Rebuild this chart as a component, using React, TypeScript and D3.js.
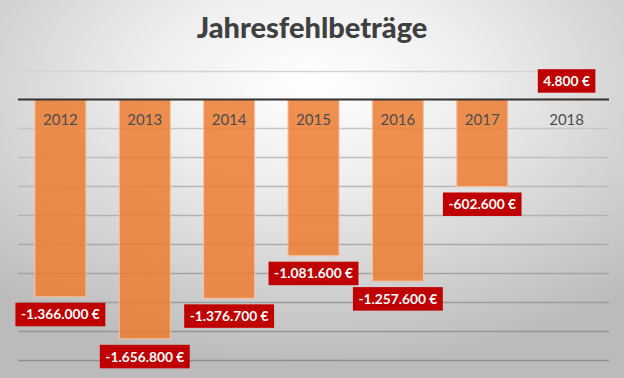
import React, { useEffect, useRef } from "react";
import * as d3 from "d3";

const years: string[] = ["2012", "2013", "2014", "2015", "2016", "2017", "2018"];
const values: number[] = [-1366000, -1656800, -1376700, -1081600, -1257600, -602600, 4800];
const yTicks: number[] = [-1800000, -1600000, -1400000, -1200000, -1000000, -800000, -600000, -400000, -200000, 0, 200000];
const title = "Jahresfehlbeträge";

const W = 624;
const H = 378;

export default function App() {
  const ref = useRef<SVGSVGElement | null>(null);

  useEffect(() => {
    document.body.style.margin = "0";
    const svg = d3.select(ref.current!);
    svg.selectAll("*").remove();

    const defs = svg.append("defs");
    const rg = defs
      .append("radialGradient")
      .attr("id", "bg")
      .attr("cx", "50%")
      .attr("cy", "22%")
      .attr("r", "75%")
      .attr("fx", "50%")
      .attr("fy", "22%");
    rg.append("stop").attr("offset", "0%").attr("stop-color", "#ffffff");
    rg.append("stop").attr("offset", "35%").attr("stop-color", "#eeeeee");
    rg.append("stop").attr("offset", "100%").attr("stop-color", "#bbbbbb");

    svg.append("rect").attr("width", W).attr("height", H).attr("fill", "url(#bg)");

    const x = d3.scaleBand<string>().domain(years).range([18, 609]).paddingInner(0.395).paddingOuter(0.2);
    const y = d3.scaleLinear().domain([-1800000, 200000]).range([359.5, 70.5]);

    const locale = d3.formatLocale({
      decimal: ",",
      thousands: ".",
      grouping: [3],
      currency: ["", " €"],
      minus: "-",
    } as any);
    const fmt = (v: number) => locale.format(",.0f")(v) + " €";

    const gridColor = d3.scaleLinear<string>().domain([200000, -1800000]).range(["#d4d4d4", "#8f8f8f"]);
    const FONT = "Lato, 'Open Sans', sans-serif";

    const measure = (txt: string, size: number, weight: string) => {
      const t = svg
        .append("text")
        .attr("font-family", FONT)
        .attr("font-weight", weight)
        .attr("font-size", size)
        .text(txt);
      const w = (t.node() as SVGTextElement).getComputedTextLength();
      t.remove();
      return w;
    };
    const labelSize = (14 * 79) / measure("-1.366.000 €", 14, "bold");
    const titleSize = (28 * 229) / measure(title, 28, "bold");

    // gridlines
    svg
      .append("g")
      .selectAll("line")
      .data(yTicks.filter((t) => t !== 0))
      .join("line")
      .attr("x1", 18)
      .attr("x2", 609)
      .attr("y1", (d) => Math.round(y(d)) + 0.5)
      .attr("y2", (d) => Math.round(y(d)) + 0.5)
      .attr("stroke", (d) => gridColor(d))
      .attr("stroke-width", 1.3);

    // bars
    svg
      .append("g")
      .selectAll("rect")
      .data(values)
      .join("rect")
      .attr("x", (_d, i) => x(years[i])!)
      .attr("width", x.bandwidth())
      .attr("y", (d) => y(Math.max(0, d)))
      .attr("height", (d) => Math.abs(y(d) - y(0)))
      .attr("fill", "#ED7D31")
      .attr("fill-opacity", 0.85)
      .attr("stroke", "#f6c3a0")
      .attr("stroke-width", 1);

    // zero line
    svg
      .append("line")
      .attr("x1", 18)
      .attr("x2", 609)
      .attr("y1", y(0))
      .attr("y2", y(0))
      .attr("stroke", "#333333")
      .attr("stroke-width", 2);

    // year labels
    svg
      .append("g")
      .selectAll("text")
      .data(years)
      .join("text")
      .attr("x", (d) => x(d)! + x.bandwidth() / 2)
      .attr("y", 125)
      .attr("text-anchor", "middle")
      .attr("font-family", FONT)
      .attr("font-size", 15)
      .attr("fill", "#4d4d4d")
      .text((d) => d);

    // data labels
    const lg = svg.append("g");
    values.forEach((v, i) => {
      const cx = x(years[i])! + x.bandwidth() / 2;
      const g = lg.append("g");
      const t = g
        .append("text")
        .attr("x", cx)
        .attr("text-anchor", "middle")
        .attr("font-family", FONT)
        .attr("font-weight", "bold")
        .attr("font-size", labelSize)
        .attr("fill", "#ffffff")
        .text(fmt(v));
      const tw = (t.node() as SVGTextElement).getComputedTextLength();
      const bh = 23.5;
      const bw = tw + 11;
      const top = v < 0 ? y(v) + 6 : y(v) - 6 - bh;
      t.attr("y", top + bh / 2 + labelSize * 0.36);
      g.insert("rect", "text")
        .attr("x", cx - bw / 2)
        .attr("y", top)
        .attr("width", bw)
        .attr("height", bh)
        .attr("fill", "#C00000");
    });

    // title
    svg
      .append("text")
      .attr("x", W / 2)
      .attr("y", 38)
      .attr("text-anchor", "middle")
      .attr("font-family", FONT)
      .attr("font-weight", "900")
      .attr("font-size", titleSize)
      .attr("fill", "#404040")
      .text(title);
  }, []);

  return <svg ref={ref} width={W} height={H} style={{ display: "block" }} />;
}
